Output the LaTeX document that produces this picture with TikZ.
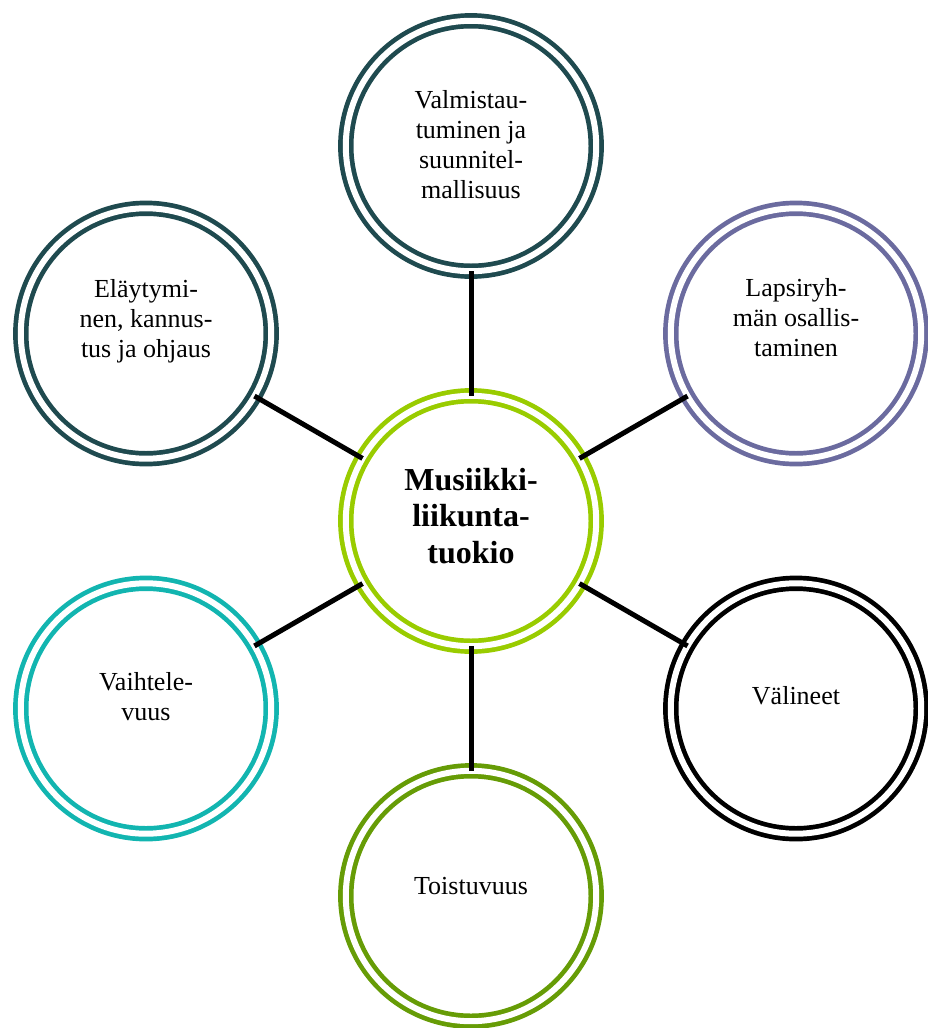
\documentclass[tikz,border=0pt]{standalone}
\usepackage{fontspec}
\setmainfont{Liberation Serif}
\usetikzlibrary{positioning}
\definecolor{deepteal}{HTML}{1F4A4F}
\definecolor{slateviolet}{HTML}{6B6B9F}
\definecolor{seateal}{HTML}{12B5B0}
\definecolor{olive}{HTML}{669C06}
\definecolor{lime}{HTML}{99CC00}
\tikzstyle{ring}=[circle, draw, double=white, line width=4.7, double distance=6,
  minimum size=250.4, inner sep=0, outer sep=0]
\tikzstyle{txt}=[align=center, inner sep=0, font=\fontsize{26}{30}\selectfont]
\tikzstyle{hubtxt}=[align=center, inner sep=0, font=\fontsize{32}{36.7}\selectfont\bfseries]
\tikzstyle{spoke}=[line width=5, black]

\begin{document}
\begin{tikzpicture}[x=1pt, y=-1pt]
    \useasboundingbox (0,0) rectangle (927,1028);
% Circles
    \node[ring, draw=lime] (hub) at (471,521) {};
    \node[ring, draw=deepteal] (top) at (471,146) {};
    \node[ring, draw=slateviolet] (ne) at (796,333.5) {};
    \node[ring, draw=black] (se) at (796,708.5) {};
    \node[ring, draw=olive] (bot) at (471,896) {};
    \node[ring, draw=seateal] (sw) at (146,708.5) {};
    \node[ring, draw=deepteal] (nw) at (146,333.5) {};
% Texts
    \node[hubtxt] (hubTxt) at (471,516) {Musiikki-\\liikunta-\\tuokio};
    \node[txt] (topTxt) at (471,145) {Valmistau-\\tuminen ja\\suunnitel-\\mallisuus};
    \node[txt] (neTxt) at (796,318) {Lapsiryh-\\män osallis-\\taminen};
    \node[txt] (seTxt) at (796,696) {Välineet};
    \node[txt] (botTxt) at (471,886) {Toistuvuus};
    \node[txt] (swTxt) at (146,696.5) {Vaihtele-\\vuus};
    \node[txt] (nwTxt) at (146,321) {Eläytymi-\\nen, kannus-\\tus ja ohjaus};
% Spokes
    \draw[spoke] (hub) -- (top);
    \draw[spoke] (hub) -- (ne);
    \draw[spoke] (hub) -- (se);
    \draw[spoke] (hub) -- (bot);
    \draw[spoke] (hub) -- (sw);
    \draw[spoke] (hub) -- (nw);
\end{tikzpicture}
\end{document}
